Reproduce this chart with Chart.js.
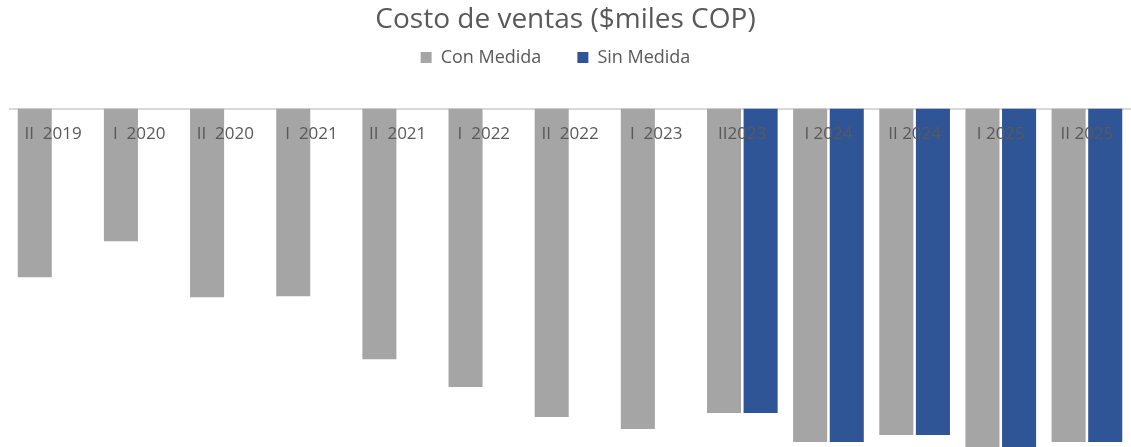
<!DOCTYPE html>
<html>
<head>
<meta charset="utf-8">
<script src="https://cdn.jsdelivr.net/npm/chart.js@4/dist/chart.umd.min.js"></script>
<style>
  html, body { margin: 0; padding: 0; background: #fff; }
  #wrap { width: 1131px; height: 447px; }
</style>
</head>
<body>
<div id="wrap"><canvas id="costo-ventas"></canvas></div>
<script>
// categories (semesters)
const periodos = ['II  2019', 'I  2020', 'II  2020', 'I  2021', 'II  2021', 'I  2022', 'II  2022', 'I  2023',
    'II2023', 'I 2024', 'II 2024', 'I 2025', 'II 2025'];
// cost of sales (negative, hanging from the axis)
const conMedida = [-169, -133, -189, -188, -251, -279, -309, -321, -305, -334, -327, -342, -334];
const sinMedida = [null, null, null, null, null, null, null, null, -305, -334, -327, -342, -334];

const textGray = '#595959';

// legend sits a bit left of the title in the original
const legendShift = {
    id: 'legendShift',
    afterLayout(chart) {
        chart.legend.left -= 10;
        chart.legend.right -= 10;
    }
};

const ctx = document.getElementById('costo-ventas');
new Chart(ctx, {
    type: 'bar',
    data: {
        labels: periodos,
        datasets: [{
            label: 'Con Medida',
            data: conMedida,
            backgroundColor: '#a5a5a5',
            borderWidth: 0,
            categoryPercentage: 0.85,
            barPercentage: 0.93
        }, {
            label: 'Sin Medida',
            data: sinMedida,
            backgroundColor: '#2f5597',
            borderWidth: 0,
            categoryPercentage: 0.85,
            barPercentage: 0.93
        }]
    },
    options: {
        responsive: true,
        maintainAspectRatio: false,
        animation: false,
        layout: { padding: { left: 1, right: 1, top: 0, bottom: 0 } },
        plugins: {
            title: {
                display: true,
                text: 'Costo de ventas ($miles COP)',
                color: textGray,
                font: { family: 'Open Sans', size: 28, weight: 'normal' },
                padding: { top: 3, bottom: -24 }
            },
            legend: {
                display: true,
                labels: {
                    color: textGray,
                    font: { family: 'Open Sans', size: 18 },
                    boxWidth: 11,
                    boxHeight: 11,
                    padding: 36
                }
            },
            tooltip: { enabled: false }
        },
        scales: {
            x: {
                position: 'top',
                grid: { display: false },
                border: { display: true, color: '#d9d9d9', width: 2 },
                ticks: {
                    z: 1,
                    color: textGray,
                    font: { family: 'Open Sans', size: 17 },
                    mirror: true,
                    padding: 15,
                    maxRotation: 0,
                    autoSkip: false
                },
                afterFit: (scale) => { scale.height = 32; }
            },
            y: {
                display: false,
                min: -339,
                max: 0,
                afterFit: (scale) => { scale.width = 9; }
            }
        }
    },
    plugins: [legendShift]
});
</script>
</body>
</html>
